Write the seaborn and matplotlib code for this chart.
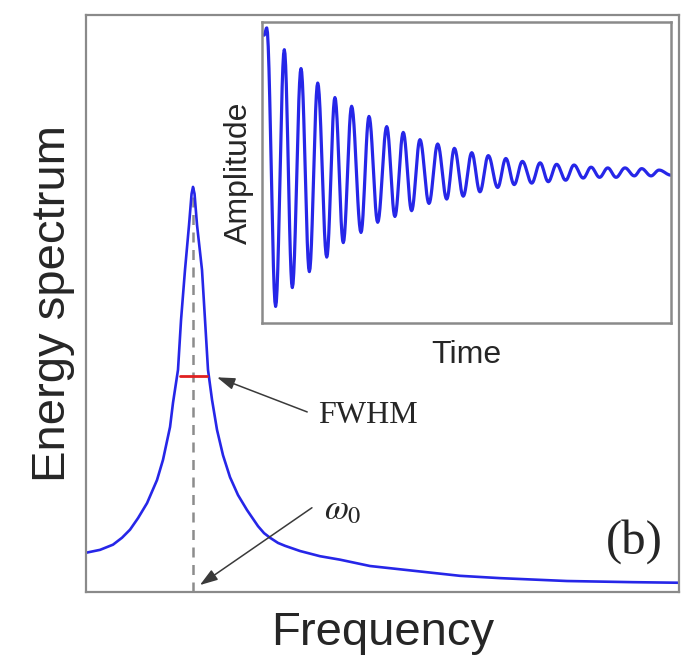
import numpy as np
import pandas as pd
import matplotlib
matplotlib.use("Agg")
import matplotlib.pyplot as plt
import seaborn as sns

# ---------------- data ----------------
# Energy spectrum (arbitrary units): frequency and spectrum value
spec_freq = [0.000, 0.236, 0.455, 0.607, 0.742, 0.877, 1.029, 1.197, 1.298, 1.417,
             1.467, 1.551, 1.602, 1.669, 1.737, 1.780, 1.804, 1.830, 1.872, 1.956,
             2.007, 2.057, 2.125, 2.209, 2.310, 2.428, 2.563, 2.715, 2.901, 3.002,
             3.103, 3.238, 3.356, 3.609, 3.946, 4.283, 4.789, 5.413, 6.307, 6.981,
             8.111, 9.224, 10.000]
spec_val = [0.068, 0.073, 0.082, 0.094, 0.108, 0.128, 0.154, 0.194, 0.229, 0.286,
            0.328, 0.385, 0.471, 0.558, 0.636, 0.690, 0.702, 0.690, 0.636, 0.558,
            0.471, 0.385, 0.333, 0.281, 0.237, 0.199, 0.168, 0.142, 0.114, 0.102,
            0.094, 0.085, 0.080, 0.071, 0.062, 0.056, 0.045, 0.038, 0.028, 0.024,
            0.019, 0.017, 0.016]
omega0 = 1.80
peak_val = 0.702
fwhm_lo, fwhm_hi, fwhm_level = 1.585, 2.04, 0.374

# Inset: damped oscillation, successive extrema (time, amplitude)
max_t = [0.28, 1.31, 2.29, 3.27, 4.28, 5.26, 6.28, 7.32, 8.29, 9.27, 10.31, 11.29,
         12.31, 13.28, 14.31, 15.28, 16.32, 17.29, 18.31, 19.31, 20.29, 21.30, 22.28, 23.30]
max_a = [1.00, 0.85, 0.72, 0.62, 0.52, 0.46, 0.39, 0.32, 0.28, 0.23, 0.20, 0.17,
         0.14, 0.12, 0.10, 0.08, 0.07, 0.06, 0.055, 0.04, 0.035, 0.035, 0.03, 0.02]
min_t = [0.80, 1.78, 2.78, 3.80, 4.77, 5.81, 6.79, 7.80, 8.78, 9.80, 10.84, 11.81,
         12.79, 13.83, 14.80, 15.83, 16.80, 17.82, 18.85, 19.81, 20.78, 21.85, 22.83]
min_a = [-0.92, -0.79, -0.68, -0.58, -0.48, -0.41, -0.34, -0.30, -0.26, -0.21, -0.18,
         -0.16, -0.13, -0.10, -0.08, -0.07, -0.06, -0.05, -0.035, -0.03, -0.03, -0.02, -0.02]
start_point = (0.12, 0.95)
end_point = (24.0, -0.015)

# ---------------- style ----------------
sns.set_theme(style="white")
plt.rcParams['font.family'] = ['Liberation Sans', 'DejaVu Sans']
plt.rcParams['mathtext.fontset'] = 'stix'

BLUE = '#2626e8'
SPINE = '#8a8a8a'
TXT = '#262626'

fig = plt.figure(figsize=(6.86, 6.68), dpi=100)
ax = fig.add_axes([0.1254, 0.1138, 0.8644, 0.8638])

df_spec = pd.DataFrame({'Frequency': spec_freq, 'Energy spectrum': spec_val})
sns.lineplot(data=df_spec, x='Frequency', y='Energy spectrum', ax=ax, color=BLUE,
             lw=1.9, sort=False, estimator=None)
ax.set_xlim(0, 10)
ax.set_ylim(0, 1.0)
ax.set_xticks([])
ax.set_yticks([])
ax.set_xlabel('Frequency', fontsize=34, color=TXT, labelpad=14)
ax.set_ylabel('Energy spectrum', fontsize=34, color=TXT, labelpad=8)
for s in ax.spines.values():
    s.set_color(SPINE)
    s.set_linewidth(1.6)

# dashed line at omega0 and FWHM bar
ax.plot([omega0, omega0], [0, peak_val], ls=(0, (4, 3)), color='#8c8c8c', lw=1.8, zorder=1)
ax.plot([fwhm_lo, fwhm_hi], [fwhm_level, fwhm_level], color='#e02020', lw=2.0, zorder=3)

arrowprops = dict(arrowstyle='-|>,head_length=0.9,head_width=0.3', color='#3a3a3a', lw=1.1,
                  shrinkA=0, shrinkB=0)
ax.annotate('', xy=(2.21, 0.372), xytext=(3.73, 0.312), arrowprops=arrowprops)
ax.text(3.91, 0.306, 'FWHM', fontsize=23, family=['Liberation Serif'], color=TXT,
        ha='left', va='center')
ax.annotate('', xy=(1.92, 0.012), xytext=(3.81, 0.146), arrowprops=arrowprops)
ax.text(4.02, 0.143, r'$\omega_0$', fontsize=25, color=TXT, ha='left', va='center')
ax.text(9.73, 0.088, '(b)', fontsize=35, family=['Liberation Serif'], color=TXT,
        ha='right', va='center')

# ---------------- inset ----------------
ins = fig.add_axes([0.3819, 0.5165, 0.5962, 0.4506])
ext = [start_point] + sorted(list(zip(max_t, max_a)) + list(zip(min_t, min_a))) + [end_point]
tt, aa = [], []
s = np.linspace(0, 1, 12, endpoint=False)
for (t0, a0), (t1, a1) in zip(ext[:-1], ext[1:]):
    tt.extend(t0 + (t1 - t0) * s)
    aa.extend(a0 + (a1 - a0) * (1 - np.cos(np.pi * s)) / 2)
tt.append(ext[-1][0]); aa.append(ext[-1][1])
df_ins = pd.DataFrame({'Time': tt, 'Amplitude': aa})
sns.lineplot(data=df_ins, x='Time', y='Amplitude', ax=ins, color=BLUE, lw=2.3,
             sort=False, estimator=None)
ins.set_xlim(0, 24.0)
ins.set_ylim(-1.034, 1.041)
ins.set_xticks([])
ins.set_yticks([])
ins.set_xlabel('Time', fontsize=23, color=TXT, labelpad=12)
ins.set_ylabel('Amplitude', fontsize=23, color=TXT, labelpad=6)
for sp in ins.spines.values():
    sp.set_color(SPINE)
    sp.set_linewidth(1.8)

fig.savefig('out.png', dpi=100)
